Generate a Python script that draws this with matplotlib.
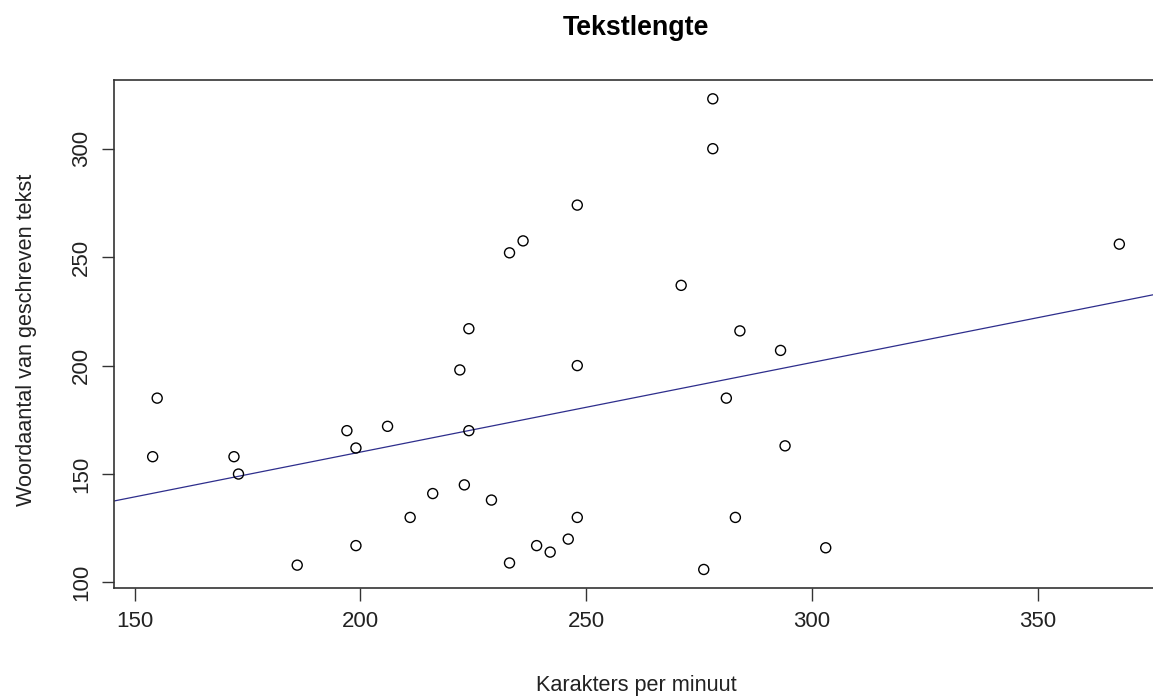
import numpy as np
import matplotlib
matplotlib.use("Agg")
import matplotlib.pyplot as plt

# Data
kpm = [224, 222, 155, 154, 172, 173, 197, 199, 206, 224, 223, 216, 229, 211,
       199, 186, 278, 278, 248, 236, 233, 271, 284, 293, 248, 281, 294, 248,
       283, 239, 242, 246, 233, 276, 303, 368]
woorden = [217, 198, 185, 158, 158, 150, 170, 162, 172, 170, 145, 141, 138, 130,
           117, 108, 323, 300, 274, 257.5, 252, 237, 216, 207, 200, 185, 163, 130,
           130, 117, 114, 120, 109, 106, 116, 256]
xticks = [150, 200, 250, 300, 350]
yticks = [100, 150, 200, 250, 300]
title = "Tekstlengte"
xlabel = "Karakters per minuut"
ylabel = "Woordaantal van geschreven tekst"

plt.rcParams['font.family'] = ['Liberation Sans', 'DejaVu Sans']

W, H, DPI = 1153, 697, 100
fig = plt.figure(figsize=(W / DPI, H / DPI), dpi=DPI)
left, right, top, bottom = 114, 1158, 80, 588.3
ax = fig.add_axes([left / W, (H - bottom) / H, (right - left) / W, (bottom - top) / H])

x = np.array(kpm, dtype=float)
y = np.array(woorden, dtype=float)

ax.scatter(x, y, s=52, facecolors='none', edgecolors='black', linewidths=1.0, zorder=3)

slope, intercept = np.polyfit(x, y, 1)
ax.axline((0, intercept), slope=slope, color='#2e2e8c', linewidth=0.9, zorder=2)

xr = x.max() - x.min()
yr = y.max() - y.min()
ax.set_xlim(x.min() - 0.04 * xr, x.max() + 0.04 * xr)
ax.set_ylim(y.min() - 0.04 * yr, y.max() + 0.04 * yr)

ax.set_xticks(xticks)
ax.set_yticks(yticks)
ax.tick_params(axis='both', direction='out', length=9, width=1.0, color='#333333',
               labelsize=16, labelcolor='#222222', pad=7)
for lab in ax.get_yticklabels():
    lab.set_rotation(90)
    lab.set_va('center')
    lab.set_ha('right')

for sp in ax.spines.values():
    sp.set_linewidth(1.2)
    sp.set_color('#333333')

fig.text(27 / W, 1 - 340 / H, ylabel, rotation=90, ha='center', va='center',
         fontsize=15.6, color='#222222')
fig.text((left + right) / 2 / W, 1 - 685 / H, xlabel, ha='center', va='center',
         fontsize=15.6, color='#222222')
fig.text((left + right) / 2 / W, 1 - 35 / H, title, ha='center', va='baseline',
         fontsize=19.3, fontweight='bold', color='black')

fig.savefig("out.png", dpi=DPI)
